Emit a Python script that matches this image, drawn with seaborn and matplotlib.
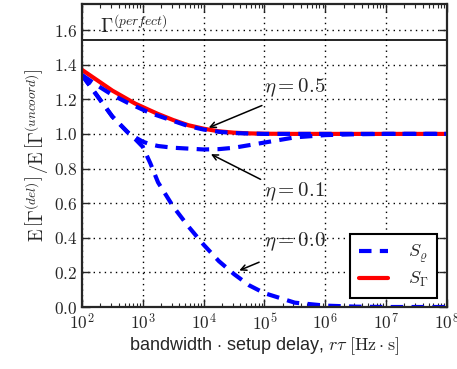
import numpy as np
import pandas as pd
import matplotlib
matplotlib.use("Agg")
import matplotlib.pyplot as plt
import seaborn as sns
from matplotlib.lines import Line2D
from matplotlib.ticker import FuncFormatter, LogLocator, NullFormatter

# values
x_vals = [1e2, 1.78e2, 3.16e2, 5.62e2, 7.5e2, 1e3, 1.33e3, 1.78e3, 3.16e3, 5.62e3,
          1e4, 1.78e4, 3.16e4, 5.62e4, 1e5, 3.16e5, 1e6, 3.16e6, 1e7, 1e8]
s_gamma = [1.37, 1.31, 1.25, 1.20, 1.175, 1.155, 1.135, 1.115, 1.08, 1.05,
           1.03, 1.015, 1.007, 1.003, 1.001, 1.0, 1.0, 1.0, 1.0, 1.0]
s_rho_05 = [1.34, 1.28, 1.225, 1.18, 1.16, 1.14, 1.12, 1.105, 1.075, 1.045,
            1.025, 1.012, 1.005, 1.002, 1.0, 1.0, 1.0, 1.0, 1.0, 1.0]
s_rho_01 = [1.34, 1.22, 1.10, 1.01, 0.98, 0.955, 0.94, 0.93, 0.92, 0.915,
            0.91, 0.912, 0.92, 0.935, 0.95, 0.98, 0.993, 0.998, 1.0, 1.0]
s_rho_00 = [1.34, 1.22, 1.10, 1.01, 0.97, 0.925, 0.83, 0.72, 0.58, 0.465,
            0.36, 0.265, 0.19, 0.125, 0.08, 0.025, 0.008, 0.002, 0.0, 0.0]
gamma_perfect = 1.54

sns.set_style("ticks")
plt.rcParams["font.family"] = ["Liberation Sans", "DejaVu Sans"]
plt.rcParams["mathtext.fontset"] = "cm"

fig = plt.figure(figsize=(4.57, 3.69), dpi=100)
ax = fig.add_axes([0.1794, 0.168, 0.7986, 0.821])

# dashed blue curves for the three eta values
for vals in [s_rho_05, s_rho_01, s_rho_00]:
    df = pd.DataFrame({"x": x_vals, "y": vals})
    sns.lineplot(data=df, x="x", y="y", ax=ax, color="blue", lw=3,
                 linestyle=(0, (3, 2)), legend=False)
df_g = pd.DataFrame({"x": x_vals, "y": s_gamma})
sns.lineplot(data=df_g, x="x", y="y", ax=ax, color="red", lw=3, legend=False,
             zorder=1)

ax.axhline(gamma_perfect, color="k", lw=1.2)
ax.text(2e2, 1.56, r"$\Gamma^{(perfect)}$", fontsize=14, va="bottom", ha="left")

ax.set_xscale("log")
ax.set_xlim(1e2, 1e8)
ax.set_ylim(0, 1.75)
ax.set_yticks([0.0, 0.2, 0.4, 0.6, 0.8, 1.0, 1.2, 1.4, 1.6])
ax.yaxis.set_major_formatter(FuncFormatter(lambda v, p: f"${v:.1f}$"))
ax.xaxis.set_major_locator(LogLocator(base=10, numticks=10))
ax.xaxis.set_major_formatter(FuncFormatter(lambda v, p: r"$10^{%d}$" % round(np.log10(v))))
ax.xaxis.set_minor_locator(LogLocator(base=10, subs=np.arange(2, 10), numticks=20))
ax.xaxis.set_minor_formatter(NullFormatter())
ax.tick_params(which="both", direction="in", top=True, right=True, labelsize=12.5)
ax.tick_params(which="major", length=6, width=1)
ax.tick_params(which="minor", length=3, width=0.8)
ax.grid(True, which="major", color="k", ls=(0, (1, 3)), lw=1)
for sp in ax.spines.values():
    sp.set_linewidth(1.6)

ax.set_xlabel(r"bandwidth $\cdot$ setup delay, $r\tau$ $[\mathrm{Hz}\cdot\mathrm{s}]$",
              fontsize=13, labelpad=2)
ax.set_ylabel(r"$\mathrm{E}\,\left[\Gamma^{(del)}\right]\,/\mathrm{E}\,\left[\Gamma^{(uncoord)}\right]$",
              fontsize=13.5, labelpad=2)

# annotations
arrow = dict(arrowstyle="->", color="k", lw=1.1)
ax.annotate("", xy=(1.1e4, 1.03), xytext=(1e5, 1.17), arrowprops=arrow)
ax.text(1e5, 1.2, r"$\eta = 0.5$", fontsize=15, va="bottom", ha="left")
ax.annotate("", xy=(1.2e4, 0.89), xytext=(9.5e4, 0.73), arrowprops=arrow)
ax.text(1e5, 0.6, r"$\eta = 0.1$", fontsize=15, va="bottom", ha="left")
ax.annotate("", xy=(3.5e4, 0.205), xytext=(9e4, 0.265), arrowprops=arrow)
ax.text(1e5, 0.31, r"$\eta = 0.0$", fontsize=15, va="bottom", ha="left")

# legend
handles = [Line2D([], [], color="blue", lw=3, linestyle=(0, (3, 2))),
           Line2D([], [], color="red", lw=3)]
leg = ax.legend(handles, [r"$S_\varrho$", r"$S_\Gamma$"], loc="lower right",
                bbox_to_anchor=(0.973, 0.03), borderaxespad=0, fancybox=False,
                fontsize=13, handlelength=1.6, handletextpad=1.1,
                labelspacing=0.25, borderpad=0.5, framealpha=1)
leg.get_frame().set_edgecolor("k")
leg.get_frame().set_linewidth(1.5)

fig.savefig("out.png", dpi=100)
